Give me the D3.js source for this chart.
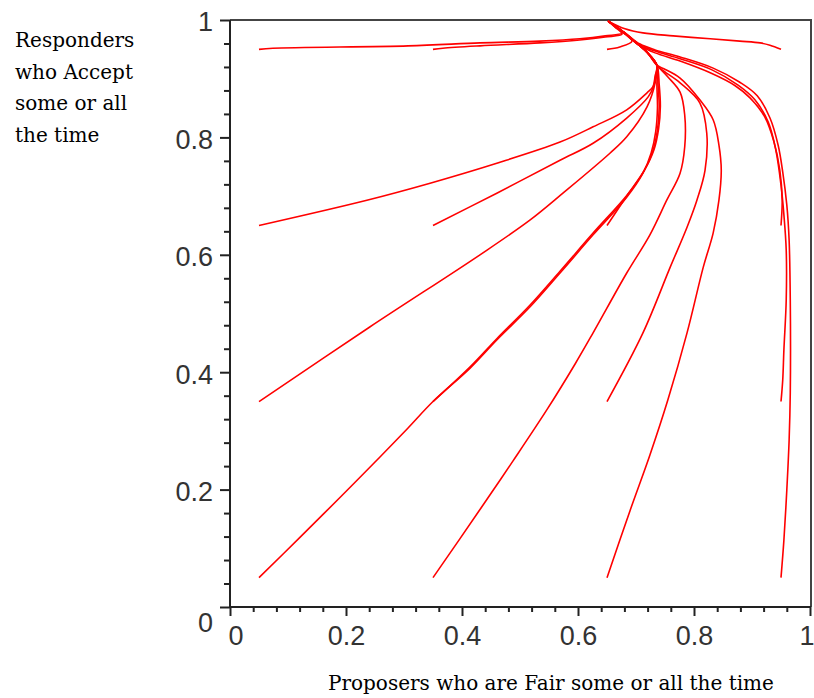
<!DOCTYPE html>
<html>
<head>
<meta charset="utf-8">
<script src="https://cdn.jsdelivr.net/npm/d3@7"></script>
<style>
  html, body { margin: 0; padding: 0; background: #fff; }
  svg { display: block; }
</style>
</head>
<body>
<svg id="chart" width="814" height="698"></svg>
<script>
// ---- tick values / labels ----
const xTicks = [0, 0.2, 0.4, 0.6, 0.8, 1];
const yTicks = [0, 0.2, 0.4, 0.6, 0.8, 1];
const tickLabels = ["0", "0.2", "0.4", "0.6", "0.8", "1"];
const minorTicks = [0.04,0.08,0.12,0.16,0.24,0.28,0.32,0.36,0.44,0.48,0.52,0.56,0.64,0.68,0.72,0.76,0.84,0.88,0.92,0.96];

const yTitleLines = ["Responders", "who Accept", "some or all", "the time"];
const xTitle = "Proposers who are Fair some or all the time";

// ---- trajectories: [proposers fair, responders accept] ----
const tail = [[0.736,0.923],[0.719,0.945],[0.698,0.963],[0.676,0.981],[0.652,0.998]];

const t05_05 = [[0.05,0.05],[0.121,0.119],[0.19,0.187],[0.259,0.256],[0.307,0.305],[0.35,0.35],[0.414,0.407],[0.46,0.455],[0.517,0.511],[0.569,0.569],[0.626,0.634],[0.684,0.698],[0.712,0.739],[0.726,0.773],[0.734,0.81],[0.737,0.85],[0.736,0.89]];
const t35_35 = [[0.35,0.35],[0.414,0.409],[0.46,0.457],[0.517,0.514],[0.569,0.572],[0.626,0.637],[0.684,0.701],[0.714,0.743],[0.729,0.777],[0.737,0.813],[0.74,0.852],[0.738,0.89]];
const t65_65 = [[0.65,0.65],[0.684,0.7],[0.715,0.745],[0.731,0.779],[0.739,0.815],[0.742,0.853],[0.74,0.89]];
const t35_05 = [[0.35,0.05],[0.431,0.166],[0.488,0.249],[0.547,0.337],[0.595,0.414],[0.626,0.467],[0.684,0.569],[0.724,0.634],[0.753,0.693],[0.776,0.739],[0.784,0.784],[0.784,0.838],[0.776,0.877],[0.755,0.903]];
const t65_35 = [[0.65,0.35],[0.712,0.467],[0.759,0.579],[0.788,0.647],[0.805,0.693],[0.819,0.744],[0.822,0.807],[0.81,0.859],[0.776,0.893],[0.745,0.915]];
const t65_05 = [[0.65,0.05],[0.69,0.165],[0.724,0.259],[0.755,0.353],[0.788,0.467],[0.816,0.579],[0.833,0.637],[0.843,0.693],[0.847,0.744],[0.843,0.787],[0.833,0.83],[0.81,0.864],[0.776,0.901],[0.748,0.917]];
const t05_35 = [[0.05,0.35],[0.241,0.477],[0.431,0.6],[0.517,0.659],[0.574,0.705],[0.655,0.773],[0.684,0.801],[0.719,0.852],[0.733,0.893]];
const t05_65 = [[0.05,0.65],[0.236,0.693],[0.345,0.722],[0.46,0.756],[0.569,0.792],[0.626,0.818],[0.684,0.847],[0.719,0.876],[0.729,0.886],[0.733,0.905]];
const t35_65 = [[0.35,0.65],[0.46,0.705],[0.569,0.761],[0.626,0.79],[0.684,0.833],[0.721,0.869],[0.731,0.889],[0.734,0.905]];
const t05_95 = [[0.05,0.95],[0.074,0.952],[0.307,0.956],[0.431,0.961],[0.534,0.964],[0.603,0.968],[0.647,0.973],[0.676,0.978],[0.664,0.988],[0.652,0.998]];
const t35_95 = [[0.35,0.95],[0.367,0.952],[0.431,0.956],[0.534,0.961],[0.603,0.966],[0.647,0.971],[0.676,0.976],[0.664,0.988],[0.652,0.998]];
const t65_95 = [[0.65,0.95],[0.672,0.954],[0.693,0.964],[0.676,0.981],[0.652,0.998]];
const t95_95 = [[0.95,0.95],[0.931,0.957],[0.914,0.961],[0.879,0.964],[0.828,0.968],[0.764,0.973],[0.712,0.978],[0.681,0.985],[0.652,0.998]];
const t95_05 = [[0.95,0.05],[0.955,0.114],[0.96,0.199],[0.964,0.284],[0.966,0.365],[0.966,0.523],[0.964,0.625],[0.96,0.685],[0.953,0.741],[0.945,0.787],[0.931,0.833],[0.909,0.871],[0.879,0.894],[0.833,0.918],[0.776,0.937],[0.733,0.949],[0.707,0.959],[0.681,0.978],[0.652,0.998]];
const t95_35 = [[0.95,0.35],[0.953,0.387],[0.955,0.438],[0.959,0.523],[0.959,0.608],[0.955,0.668],[0.95,0.719],[0.941,0.779],[0.928,0.826],[0.905,0.864],[0.876,0.889],[0.831,0.915],[0.776,0.934],[0.733,0.947],[0.707,0.957],[0.681,0.978],[0.652,0.998]];
const t95_65 = [[0.95,0.65],[0.952,0.693],[0.948,0.744],[0.938,0.792],[0.922,0.835],[0.897,0.867],[0.871,0.888],[0.828,0.91],[0.776,0.93],[0.733,0.944],[0.707,0.956],[0.681,0.976],[0.652,0.998]];

const interior = [t05_05, t35_35, t65_65, t35_05, t65_35, t65_05, t05_35, t05_65, t35_65];
const edge = [t05_95, t35_95, t65_95, t95_95, t95_05, t95_35, t95_65];
const trajectories = interior.map(t => t.concat(tail)).concat(edge);

(function draw() {
  const svg = d3.select("#chart");
  const mLeft = 230, mRight = 810, mTop = 20, mBottom = 607;
  const x = d3.scaleLinear().domain([0, 1]).range([mLeft, mRight]);
  const y = d3.scaleLinear().domain([0, 1]).range([mBottom, mTop]);

  const tickFont = "'Liberation Sans', Arial, sans-serif";

  // frame (top & right)
  svg.append("path")
    .attr("d", `M${mLeft},${mTop}H${mRight + 1}V${mBottom}`)
    .attr("fill", "none").attr("stroke", "#444").attr("stroke-width", 2);

  // trajectories
  const line = d3.line().x(d => x(d[0])).y(d => y(d[1])).curve(d3.curveCatmullRom.alpha(0.5));
  svg.append("g").selectAll("path").data(trajectories).join("path")
    .attr("d", line)
    .attr("fill", "none")
    .attr("stroke", "#ff0000")
    .attr("stroke-width", 1.6)
    .attr("stroke-linejoin", "round");

  // minor ticks
  svg.append("g").attr("transform", `translate(0,${mBottom})`)
    .call(d3.axisBottom(x).tickValues(minorTicks).tickSize(5).tickFormat(""))
    .call(g => g.select(".domain").remove())
    .call(g => g.selectAll("line").attr("stroke", "#222").attr("stroke-width", 2));
  svg.append("g").attr("transform", `translate(${mLeft},0)`)
    .call(d3.axisLeft(y).tickValues(minorTicks).tickSize(6).tickFormat(""))
    .call(g => g.select(".domain").remove())
    .call(g => g.selectAll("line").attr("stroke", "#222").attr("stroke-width", 2));

  // major x axis
  const xAxis = svg.append("g").attr("transform", `translate(0,${mBottom})`)
    .call(d3.axisBottom(x).tickValues(xTicks).tickSize(9).tickPadding(10)
          .tickFormat((d, i) => tickLabels[i]).tickSizeOuter(0));
  xAxis.select(".domain").attr("d", `M${mLeft},0H${mRight + 1}`).attr("stroke", "#222").attr("stroke-width", 2);
  xAxis.selectAll("line").attr("stroke", "#222").attr("stroke-width", 2);
  const xt = xAxis.selectAll("text").attr("font-family", tickFont).attr("font-size", 27).attr("fill", "#333");
  xt.filter((d, i) => i === 0).attr("text-anchor", "start").attr("dx", -2);
  xt.filter((d, i) => i === xTicks.length - 1).attr("text-anchor", "end").attr("dx", 4);

  // major y axis
  const yAxis = svg.append("g").attr("transform", `translate(${mLeft},0)`)
    .call(d3.axisLeft(y).tickValues(yTicks).tickSize(10).tickPadding(7)
          .tickFormat((d, i) => tickLabels[i]).tickSizeOuter(0));
  yAxis.select(".domain").attr("d", `M0,${mTop}V${mBottom + 1}`).attr("stroke", "#222").attr("stroke-width", 2);
  yAxis.selectAll("line").attr("stroke", "#222").attr("stroke-width", 2);
  yAxis.selectAll("text").attr("font-family", tickFont).attr("font-size", 27).attr("fill", "#333")
    .attr("dy", "0.4em")
    .filter((d, i) => i === 0).attr("dy", "0.9em");

  // titles
  const titleFont = "'DejaVu Serif', serif";
  svg.append("g").selectAll("text").data(yTitleLines).join("text")
    .attr("x", 15).attr("y", (d, i) => 47 + i * 31.5)
    .attr("font-family", titleFont).attr("font-size", 20).attr("fill", "#000")
    .text(d => d);
  svg.append("text")
    .attr("x", 328).attr("y", 690)
    .attr("font-family", titleFont).attr("font-size", 20).attr("fill", "#000")
    .text(xTitle);
})();
</script>
</body>
</html>
